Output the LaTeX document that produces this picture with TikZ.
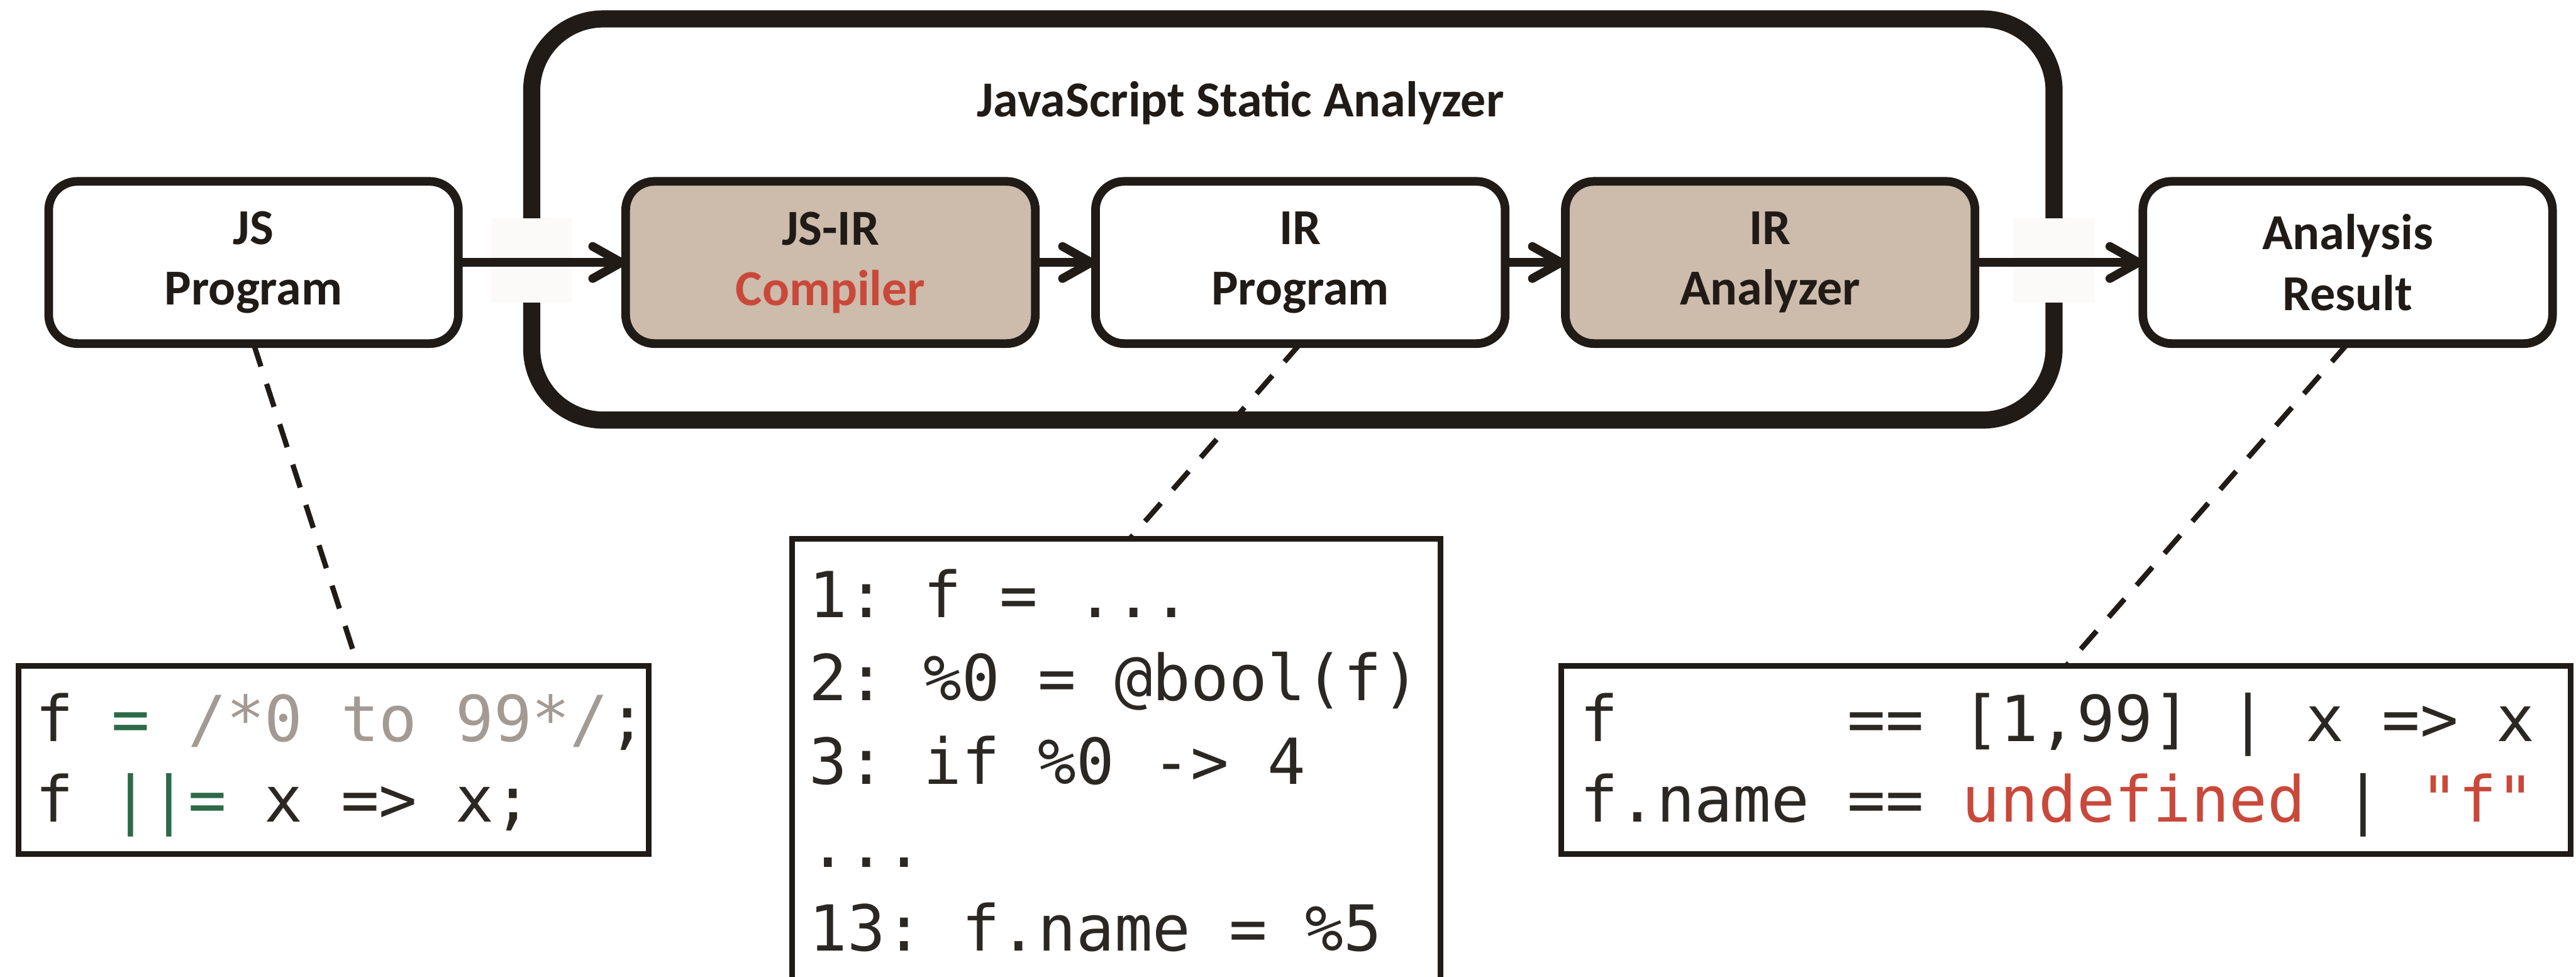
\documentclass[tikz,border=0pt]{standalone}
\usepackage{fontspec}
\setmainfont{Carlito}
\newfontfamily\codefont[Ligatures=TeXOff]{DejaVu Sans Mono}
\usetikzlibrary{arrows.meta, positioning}
\definecolor{inkDark}{HTML}{201B16}
\definecolor{toolTan}{HTML}{CDBBAB}
\definecolor{errRed}{HTML}{C9483A}
\definecolor{opGreen}{HTML}{2D6A47}
\definecolor{cmtGray}{HTML}{A29A93}
\definecolor{codeInk}{HTML}{2B2723}
\definecolor{patchWhite}{HTML}{FBFAF8}
\newcommand{\labelfont}{\fontsize{25}{30}\selectfont\bfseries}
\newcommand{\DrawGapPatch}[1]{
    % #1: left x of the patch over the frame line
    \fill[patchWhite] (#1, 11.76) rectangle ++(1.42, 1.47);
}
\tikzset{
    stageBox/.style={draw=inkDark, fill=white, line width=4.3pt, rounded corners=0.5cm, minimum width=7.15cm, minimum height=2.83cm, outer sep=0pt, align=center, font=\labelfont, text=inkDark},
    toolBox/.style={stageBox, fill=toolTan},
    frameBox/.style={draw=inkDark, line width=8.5pt, rounded corners=1.25cm, minimum width=26.57cm, minimum height=7cm, outer sep=0pt},
    flowArrow/.style={draw=inkDark, line width=4.3pt, -{Straight Barb[length=5mm, width=5.6mm, round]}},
    noteLink/.style={draw=inkDark, line width=2.6pt, dash pattern=on 0.42cm off 0.32cm},
    codeFrame/.style={draw=inkDark, line width=2.8pt, inner sep=0pt, outer sep=0pt, anchor=north west},
    codeText/.style={inner sep=0pt, outer sep=0pt, align=left, text=codeInk, font=\codefont\frenchspacing\fontsize{31.5}{40}\selectfont}
}
\begin{document}
\begin{tikzpicture}
        \path[use as bounding box] (0,0) rectangle (44.96,17.04);
        \clip (0,0) rectangle (44.96,17.04);

        % Analyzer frame
        \node[frameBox] (analyzer) at (22.565,13.21) {};
        \node[font=\labelfont, text=inkDark, anchor=base] (analyzerTitle) at (21.65,15.0) {JavaScript Static Analyzer};
        \DrawGapPatch{8.57}
        \DrawGapPatch{35.14}

        % Pipeline stages
        \node[stageBox] (jsProg) at (4.425,12.46) {JS\\Program};
        \node[toolBox, right=2.92cm of jsProg] (jsirComp) {JS-IR\\\textcolor{errRed}{Compiler}};
        \node[stageBox, right=1.05cm of jsirComp] (irProg) {IR\\Program};
        \node[toolBox, right=1.05cm of irProg] (irAnal) {IR\\Analyzer};
        \node[stageBox, right=2.93cm of irAnal] (anaResult) {Analysis\\Result};

        \draw[flowArrow] (jsProg) -- (jsirComp);
        \draw[flowArrow] (jsirComp) -- (irProg);
        \draw[flowArrow] (irProg) -- (irAnal);
        \draw[flowArrow] (irAnal) -- (anaResult);

        % Code samples
        \node[codeFrame, minimum width=11cm, minimum height=3.28cm] (jsCode) at (0.32,5.42) {};
        \node[codeText, below right=0.47cm and 0.3cm of jsCode.north west] (jsCodeText) {f {\color{opGreen}=} {\color{cmtGray}/*0 to 99*/};\\f {\color{opGreen}||=} x => x;};

        \node[codeFrame, minimum width=11.32cm, minimum height=8.2cm] (irCode) at (13.82,7.64) {};
        \node[codeText, font=\codefont\frenchspacing\fontsize{31.5}{41.4}\selectfont, below right=0.53cm and 0.3cm of irCode.north west] (irCodeText) {1: f = ...\\2: \%0 = @bool(f)\\3: if \%0 -> 4\\...\\13: f.name = \%5};

        \node[codeFrame, minimum width=17.62cm, minimum height=3.28cm] (resCode) at (27.25,5.42) {};
        \node[codeText, below right=0.47cm and 0.33cm of resCode.north west] (resCodeText) {f\phantom{.name} == [1,99] | x => x\\f.name == {\color{errRed}undefined} | {\color{errRed}"f"}};

        % Links to samples
        \draw[noteLink] (jsProg.south) -- ([xshift=4.3mm]jsCode.north);
        \draw[noteLink] (irProg.south) -- ([xshift=2.4mm]irCode.north);
        \draw[noteLink] (anaResult.south) -- (resCode.north);
    \end{tikzpicture}
\end{document}
